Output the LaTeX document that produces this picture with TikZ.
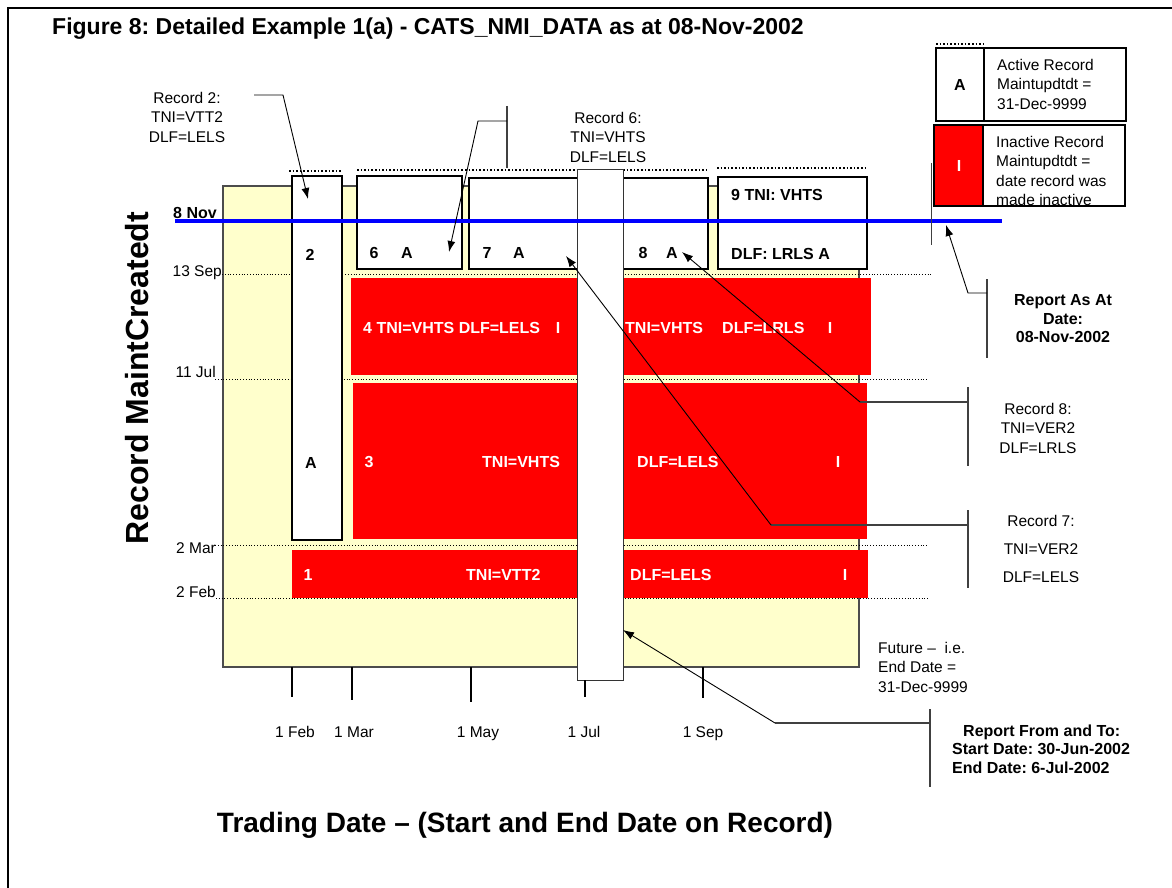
\documentclass[tikz,border=0pt]{standalone}
\usepackage{fontspec}
\setmainfont{Liberation Sans}
\usetikzlibrary{arrows.meta}
\definecolor{paleyellow}{HTML}{FFFFCC}
\definecolor{bracketgray}{HTML}{404040}

\begin{document}
\frenchspacing
\begin{tikzpicture}[
  x = 1pt,
  y = -1pt,
  txt/.style = {
    font = \fontsize{15.5}{19.5}\selectfont,
    inner sep = 0pt
  },
  btxt/.style = {
    font = \fontsize{16}{18.5}\selectfont\bfseries,
    inner sep = 0pt
  },
  wtxt/.style = {
    btxt,
    text = white
  },
  ticklbl/.style = {
    txt,
    anchor = base
  },
  recbox/.style = {
    draw = black,
    fill = white,
    line width = 2.5pt
  },
  bar/.style = {
    fill = red
  },
  grid/.style = {
    dotted,
    line width = 0.8pt
  },
  topdots/.style = {
    dotted,
    line width = 1.6pt
  },
  callout/.style = {
    line width = 0.9pt,
    -{Latex[length = 11pt, width = 8pt]}
  },
  bracket/.style = {
    draw = bracketgray,
    line width = 1.3pt
  }
]
  \useasboundingbox (0, 0) rectangle (1172, 888);
  \fill[white] (0, 0) rectangle (1172, 888);
  \draw[line width = 1.5pt] (8, 888) -- (8, 8) -- (1172, 8);

  \node[font = \fontsize{23}{26}\selectfont\bfseries, anchor = west, inner sep = 0pt] (title) at (52, 29)
    {Figure 8: Detailed Example 1(a) - CATS\_NMI\_DATA as at 08-Nov-2002};

  \draw[fill = paleyellow, draw = black!70, line width = 1.2pt] (223, 186) rectangle (859, 667);

  \node[txt, anchor = east] (sep) at (222, 273) {13 Sep};
  \node[txt, anchor = east] (jul) at (216, 372) {11 Jul};
  \node[txt, anchor = east] (mar) at (216, 548) {2 Mar};
  \node[txt, anchor = east] (feb) at (216, 592) {2 Feb};
  \draw[grid] (222, 274) -- (932, 274);
  \draw[grid] (215, 379) -- (928, 379);
  \draw[grid] (215, 545) -- (928, 545);
  \draw[grid] (216, 598) -- (928, 598);

  \draw[topdots] (289, 171) -- (342, 171);
  \draw[topdots] (357, 170) -- (577, 170);
  \draw[topdots] (623, 170) -- (707, 170);
  \draw[topdots] (717, 168) -- (866, 168);

  \fill[bar] (351, 278) rectangle (871, 375);
  \fill[bar] (353, 383) rectangle (867, 539);
  \fill[bar] (292, 550) rectangle (868, 598);

  \node[wtxt, anchor = west] (r4a) at (363, 328) {4 TNI=VHTS DLF=LELS};
  \node[wtxt] (r4b) at (558, 328) {I};
  \node[wtxt, anchor = west] (r4c) at (625, 328) {TNI=VHTS};
  \node[wtxt, anchor = west] (r4d) at (722, 328) {DLF=LRLS};
  \node[wtxt] (r4e) at (830, 328) {I};

  \node[wtxt] (r3a) at (369, 462) {3};
  \node[wtxt, anchor = west] (r3b) at (482, 462) {TNI=VHTS};
  \node[wtxt, anchor = west] (r3c) at (637, 462) {DLF=LELS};
  \node[wtxt] (r3d) at (838, 462) {I};

  \node[wtxt] (r1a) at (308, 575) {1};
  \node[wtxt, anchor = west] (r1b) at (466, 575) {TNI=VTT2};
  \node[wtxt, anchor = west] (r1c) at (630, 575) {DLF=LELS};
  \node[wtxt] (r1d) at (845, 575) {I};

  \draw[recbox] (292, 176) rectangle (342, 540);
  \draw[recbox] (357, 176) rectangle (462, 269);
  \draw[recbox] (469, 178) rectangle (600, 269);
  \draw[recbox] (600, 178) rectangle (708, 269);
  \draw[recbox] (718, 177) rectangle (867, 269);

  \node[btxt] (r2num) at (310, 255) {2};
  \node[btxt] (r2flag) at (311, 463) {A};
  \node[btxt] (r6num) at (374, 253) {6};
  \node[btxt] (r6flag) at (407, 253) {A};
  \node[btxt] (r7num) at (487, 253) {7};
  \node[btxt] (r7flag) at (519, 253) {A};
  \node[btxt] (r8num) at (643, 253) {8};
  \node[btxt] (r8flag) at (672, 253) {A};
  \node[btxt, anchor = west] (r9top) at (731, 195) {9 TNI: VHTS};
  \node[btxt, anchor = west] (r9bot) at (731, 254) {DLF: LRLS A};

  \draw[fill = white, draw = black!80, line width = 1pt] (577, 169) rectangle (623, 680);

  \node[btxt, anchor = west] (nov) at (173, 213) {8 Nov};
  \draw[blue, line width = 4.3pt] (175, 221) -- (1002, 221);

  \draw[line width = 1.2pt] (292, 667) -- (292, 697);
  \draw[line width = 1.2pt] (352, 667) -- (352, 700);
  \draw[line width = 1.2pt] (471, 667) -- (471, 702);
  \draw[line width = 1.2pt] (585, 680) -- (585, 697);
  \draw[line width = 1.2pt] (703, 667) -- (703, 698);
  \node[ticklbl] (tfeb) at (295, 737) {1 Feb};
  \node[ticklbl] (tmar) at (354, 737) {1 Mar};
  \node[ticklbl] (tmay) at (478, 737) {1 May};
  \node[ticklbl] (tjul) at (584, 737) {1 Jul};
  \node[ticklbl] (tsep) at (703, 737) {1 Sep};

  \node[font = \fontsize{32}{36}\selectfont\bfseries, rotate = 90, inner sep = 0pt] (ytitle) at (137, 378)
    {Record MaintCreatedt};
  \node[font = \fontsize{28}{32}\selectfont\bfseries, inner sep = 0pt] (xtitle) at (525, 825)
    {Trading Date – (Start and End Date on Record)};

  \draw[line width = 2pt] (936, 48) rectangle (1126, 121);
  \draw[line width = 2pt] (984, 48) -- (984, 121);
  \draw[dotted, line width = 1.6pt] (936, 44) -- (984, 44);
  \node[btxt] (legA) at (960, 85) {A};
  \node[txt, align = left, anchor = west] (acttxt) at (997, 84)
    {Active Record\\Maintupdtdt =\\31-Dec-9999};

  \fill[red] (934, 125) rectangle (983, 206);
  \node[wtxt] (legI) at (959, 166) {I};
  \begin{scope}
    \clip (983, 125) rectangle (1125, 206);
    \node[txt, align = left, anchor = north west] (inacttxt) at (996, 136)
      {Inactive Record\\Maintupdtdt =\\date record was\\made inactive};
  \end{scope}
  \draw[line width = 1.3pt] (934, 125) rectangle (1125, 206);
  \draw[line width = 1.3pt] (983, 125) -- (983, 206);

  \node[txt, align = center] (rec2txt) at (187, 117) {Record 2:\\TNI=VTT2\\DLF=LELS};
  \coordinate (r2a) at (254, 95);
  \coordinate (r2b) at (283, 95);
  \coordinate (r2tip) at (308, 199);
  \draw[callout] (r2a) -- (r2b) -- (r2tip);

  \node[txt, align = center] (rec6txt) at (608, 137) {Record 6:\\TNI=VHTS\\DLF=LELS};
  \coordinate (r6top) at (507, 106);
  \coordinate (r6bot) at (507, 168);
  \coordinate (r6knee) at (507, 121);
  \coordinate (r6bend) at (478, 121);
  \coordinate (r6tip) at (449, 252);
  \draw[bracket] (r6top) -- (r6bot);
  \draw[callout] (r6knee) -- (r6bend) -- (r6tip);

  \node[btxt, align = center] (asattxt) at (1063, 319) {Report As At\\Date:\\08-Nov-2002};
  \coordinate (asattop) at (987, 279);
  \coordinate (asatbot) at (987, 358);
  \coordinate (asatknee) at (987, 293);
  \coordinate (asatbend) at (968, 293);
  \coordinate (asattip) at (946, 225);
  \draw[bracket] (asattop) -- (asatbot);
  \draw[callout] (asatknee) -- (asatbend) -- (asattip);
  \draw[draw = bracketgray, line width = 1pt] (931, 163) -- (931, 245);

  \node[txt, align = center] (rec8txt) at (1038, 428) {Record 8:\\TNI=VER2\\DLF=LRLS};
  \coordinate (r8top) at (968, 387);
  \coordinate (r8bot) at (968, 466);
  \coordinate (r8knee) at (968, 402);
  \coordinate (r8bend) at (860, 402);
  \coordinate (r8tip) at (682, 252);
  \draw[bracket] (r8top) -- (r8bot);
  \draw[bracket] (r8knee) -- (r8bend);
  \draw[callout] (r8bend) -- (r8tip);

  \node[txt, align = center, font = \fontsize{15.5}{28}\selectfont] (rec7txt) at (1041, 549) {Record 7:\\TNI=VER2\\DLF=LELS};
  \coordinate (r7top) at (968, 510);
  \coordinate (r7bot) at (968, 588);
  \coordinate (r7knee) at (968, 525);
  \coordinate (r7bend) at (771, 525);
  \coordinate (r7tip) at (566, 256);
  \draw[bracket] (r7top) -- (r7bot);
  \draw[bracket] (r7knee) -- (r7bend);
  \draw[callout] (r7bend) -- (r7tip);

  \node[txt, align = left, anchor = west] (futuretxt) at (878, 667) {Future –\ \ i.e.\\End Date =\\31-Dec-9999};

  \node[btxt, align = left, anchor = west] (rangetxt) at (952, 749)
    {\hspace*{11pt}Report From and To:\\Start Date: 30-Jun-2002\\End Date: 6-Jul-2002};
  \coordinate (rangetop) at (930, 709);
  \coordinate (rangebot) at (930, 787);
  \coordinate (rangeknee) at (930, 723);
  \coordinate (rangebend) at (775, 723);
  \coordinate (rangetip) at (623, 630);
  \draw[bracket] (rangetop) -- (rangebot);
  \draw[bracket] (rangeknee) -- (rangebend);
  \draw[callout] (rangebend) -- (rangetip);
\end{tikzpicture}
\end{document}
